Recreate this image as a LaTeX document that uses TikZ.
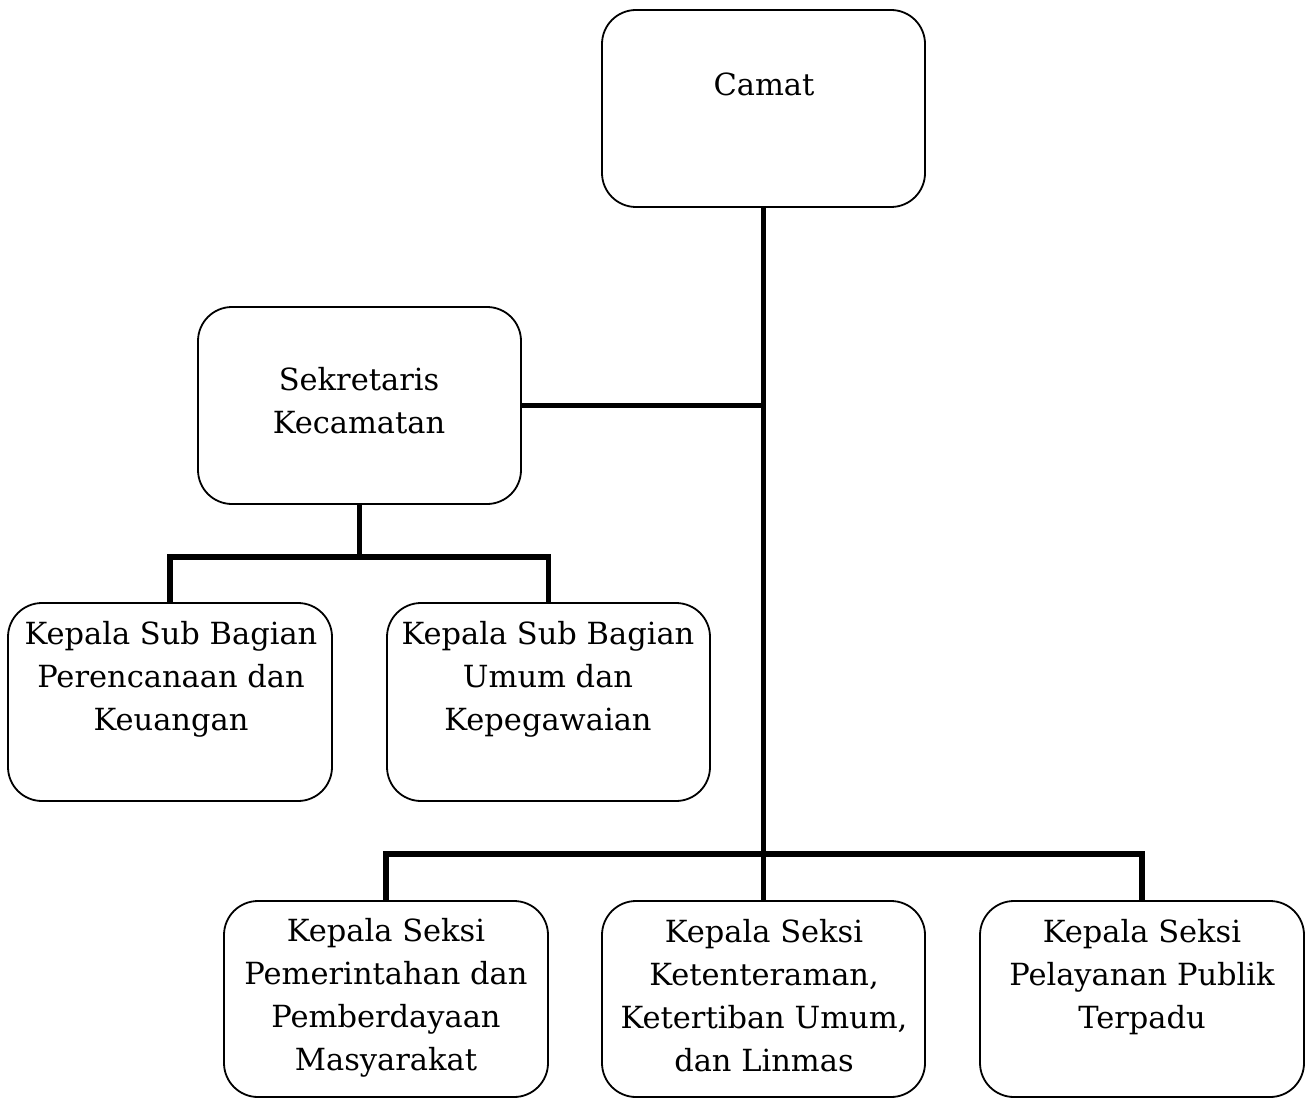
\documentclass[tikz,border=0pt]{standalone}
\usepackage{fontspec}
\setmainfont{DejaVu Serif}
\begin{document}
\begin{tikzpicture}[x=1pt,y=-1pt,
  box/.style={draw, line width=1.8pt, rounded corners=34pt, inner sep=0pt},
  lbl/.style={align=center, inner sep=0pt, font=\fontsize{30.5}{43}\selectfont},
  conn/.style={line width=5.5pt, line join=miter}]
\useasboundingbox (0,0) rectangle (1313,1099);
% boxes
\node[box, minimum width=323pt, minimum height=197pt] (camat) at (763.5,108.5) {};
\node[box, minimum width=323pt, minimum height=197pt] (sek) at (359.5,405.5) {};
\node[box, minimum width=324pt, minimum height=198pt] (sub1) at (170,702) {};
\node[box, minimum width=323pt, minimum height=198pt] (sub2) at (548.5,702) {};
\node[box, minimum width=324pt, minimum height=196pt] (b1) at (386,999) {};
\node[box, minimum width=323pt, minimum height=196pt] (b2) at (763.5,999) {};
\node[box, minimum width=324pt, minimum height=196pt] (b3) at (1142,999) {};
% texts
\node[lbl] (tcamat) at (764,84) {Camat};
\node[lbl] (tsek) at (359,400.5) {Sekretaris\\Kecamatan};
\node[lbl] (tsub1) at (171,679) {Kepala Sub Bagian\\Perencanaan dan\\Keuangan};
\node[lbl] (tsub2) at (548,679) {Kepala Sub Bagian\\Umum dan\\Kepegawaian};
\node[lbl] (tb1) at (386,998) {Kepala Seksi\\Pemerintahan dan\\Pemberdayaan\\Masyarakat};
\node[lbl] (tb2) at (764,996) {Kepala Seksi\\Ketenteraman,\\Ketertiban Umum,\\dan Linmas};
\node[lbl] (tb3) at (1142,977) {Kepala Seksi\\Pelayanan Publik\\Terpadu};
% connectors
\draw[conn] (camat.south) -- (b2.north);
\draw[conn] (sek.east) -- (sek.east -| camat.south);
\draw[conn] (b1.north) -- ++(0,-46) -| (b3.north);
\draw[conn] (sek.south) -- ++(0,54);
\draw[conn] (sub1.north) -- ++(0,-45) -| (sub2.north);
\end{tikzpicture}
\end{document}
